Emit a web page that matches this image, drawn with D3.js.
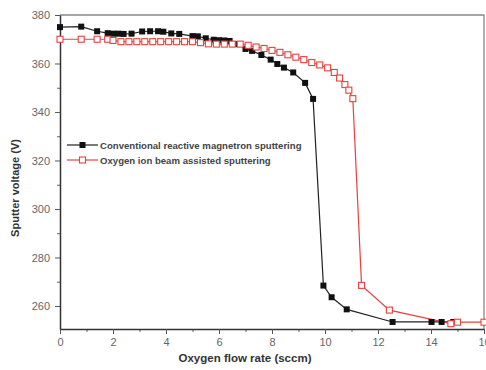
<!DOCTYPE html>
<html>
<head>
<meta charset="utf-8">
<script src="https://cdn.jsdelivr.net/npm/d3@7"></script>
<style>
  body { margin: 0; background: #fff; }
  svg { display: block; font-family: "Liberation Sans", Arial, sans-serif; }
</style>
</head>
<body>
<svg id="chart" width="486" height="370"></svg>
<script>
// Conventional reactive magnetron sputtering (filled black squares)
const convFlow = [0, 0.8, 1.4, 1.8, 2.0, 2.2, 2.4, 2.7, 3.1, 3.4, 3.7, 3.9, 4.2, 4.5, 5.0, 5.2, 5.5, 5.8, 6.0, 6.2, 6.4,
  6.7, 7.0, 7.25, 7.6, 7.95, 8.2, 8.45, 8.8, 9.25, 9.55, 9.94, 10.25, 10.82, 12.55, 14.02, 14.4, 14.84];
const convVolt = [375, 375.2, 373.3, 372.5, 372.3, 372.3, 372.2, 372.3, 373.2, 373.3, 373.3, 373.1, 372.4, 372.2, 371.3, 371.2, 370.4, 369.8, 369.6, 369.5, 369.3,
  368, 366, 365.2, 363.5, 361.6, 359.8, 358.3, 356.3, 352, 345.4, 268.4, 263.6, 258.6, 253.4, 253.4, 253.4, 253.4];

// Oxygen ion beam assisted sputtering (open red squares)
const ionFlow = [0, 0.8, 1.4, 1.8, 2.0, 2.3, 2.6, 2.9, 3.2, 3.5, 3.8, 4.1, 4.4, 4.7, 5.0, 5.3, 5.6, 5.9, 6.2, 6.5, 6.8,
  7.1, 7.4, 7.7, 8.0, 8.3, 8.6, 8.9, 9.2, 9.5, 9.8, 10.1, 10.35, 10.55, 10.75, 10.9, 11.05, 11.38, 12.43, 14.75, 15.0, 16.0];
const ionVolt = [370, 370, 370, 370, 369.5, 369, 369, 369, 369, 369, 369, 369, 369, 369, 369, 368.6, 368.1, 368, 368, 368, 368,
  367.5, 366.8, 366.2, 365.4, 364.6, 363.6, 362.6, 361.6, 360.4, 359.4, 358.2, 356.3, 354, 351.3, 349, 345.5, 268.5, 258.3, 252.7, 253.3, 253.3];

const xTicks = [0, 2, 4, 6, 8, 10, 12, 14, 16];
const yTicks = [260, 280, 300, 320, 340, 360, 380];
const seriesNames = ["Conventional reactive magnetron sputtering", "Oxygen ion beam assisted sputtering"];

const margin = { top: 15, right: 2, bottom: 41, left: 60 };
const W = 486, H = 370;
const w = W - margin.left - margin.right;
const h = H - margin.top - margin.bottom;

const svg = d3.select("#chart");
const g = svg.append("g").attr("transform", `translate(${margin.left},${margin.top})`);

const x = d3.scaleLinear().domain([0, 16]).range([0, w]);
const y = d3.scaleLinear().domain([250.5, 380]).range([h, 0]);

// frame (top / right)
g.append("path")
  .attr("d", `M0,0H${w}V${h}`)
  .attr("fill", "none").attr("stroke", "#888").attr("stroke-width", 1.3);

// minor ticks
g.append("g").attr("transform", `translate(0,${h})`)
  .call(d3.axisBottom(x).tickValues(d3.range(1, 16, 2)).tickSize(3).tickFormat(""))
  .call(a => a.select(".domain").remove())
  .selectAll("line").attr("stroke", "#666");
g.append("g")
  .call(d3.axisLeft(y).tickValues(d3.range(270, 380, 20)).tickSize(3).tickFormat(""))
  .call(a => a.select(".domain").remove())
  .selectAll("line").attr("stroke", "#666");

// major axes
const xAxis = g.append("g").attr("transform", `translate(0,${h})`)
  .call(d3.axisBottom(x).tickValues(xTicks).tickSize(5).tickSizeOuter(0).tickPadding(4));
const yAxis = g.append("g")
  .call(d3.axisLeft(y).tickValues(yTicks).tickSize(5).tickSizeOuter(0).tickPadding(5));
[xAxis, yAxis].forEach(a => {
  a.select(".domain").attr("stroke", "#333").attr("stroke-width", 1.5);
  a.selectAll("line").attr("stroke", "#555");
  a.selectAll("text").attr("fill", "#666").style("font-size", "11px");
});

// axis titles
g.append("text")
  .attr("x", 185).attr("y", h + 33)
  .attr("text-anchor", "middle")
  .style("font-size", "11.5px").style("font-weight", "bold").attr("fill", "#333")
  .text("Oxygen flow rate (sccm)");
svg.append("text")
  .attr("transform", "translate(19,188) rotate(-90)")
  .attr("text-anchor", "middle")
  .style("font-size", "11px").style("font-weight", "bold").attr("fill", "#333")
  .text("Sputter voltage (V)");

const line = d3.line().x(d => x(d[0])).y(d => y(d[1]));
const conv = convFlow.map((f, i) => [f, convVolt[i]]);
const ion = ionFlow.map((f, i) => [f, ionVolt[i]]);

// black series
g.append("path").datum(conv).attr("d", line)
  .attr("fill", "none").attr("stroke", "#222").attr("stroke-width", 1.2);
// red series
g.append("path").datum(ion).attr("d", line)
  .attr("fill", "none").attr("stroke", "#e8413f").attr("stroke-width", 1.2);

const ms = 6;
g.selectAll(".conv").data(conv).join("rect")
  .attr("x", d => x(d[0]) - ms / 2).attr("y", d => y(d[1]) - ms / 2)
  .attr("width", ms).attr("height", ms).attr("fill", "#111");
g.selectAll(".ion").data(ion).join("rect")
  .attr("x", d => x(d[0]) - ms / 2).attr("y", d => y(d[1]) - ms / 2)
  .attr("width", ms).attr("height", ms)
  .attr("fill", "#fff").attr("stroke", "#e8413f").attr("stroke-width", 1.1);

// legend
const legend = g.append("g").attr("transform", "translate(7,130)");
const legColors = ["#222", "#e8413f"];
seriesNames.forEach((name, i) => {
  const row = legend.append("g").attr("transform", `translate(0,${i * 15})`);
  row.append("line").attr("x1", 0).attr("x2", 31).attr("y1", 0).attr("y2", 0)
    .attr("stroke", legColors[i]).attr("stroke-width", 1.2);
  row.append("rect").attr("x", 15.5 - ms / 2).attr("y", -ms / 2).attr("width", ms).attr("height", ms)
    .attr("fill", i === 0 ? "#111" : "#fff")
    .attr("stroke", i === 0 ? "none" : "#e8413f").attr("stroke-width", 1.1);
  row.append("text").attr("x", 33).attr("y", 3.5)
    .style("font-size", "9.6px").style("font-weight", "bold").attr("fill", "#444")
    .text(name);
});
</script>
</body>
</html>
